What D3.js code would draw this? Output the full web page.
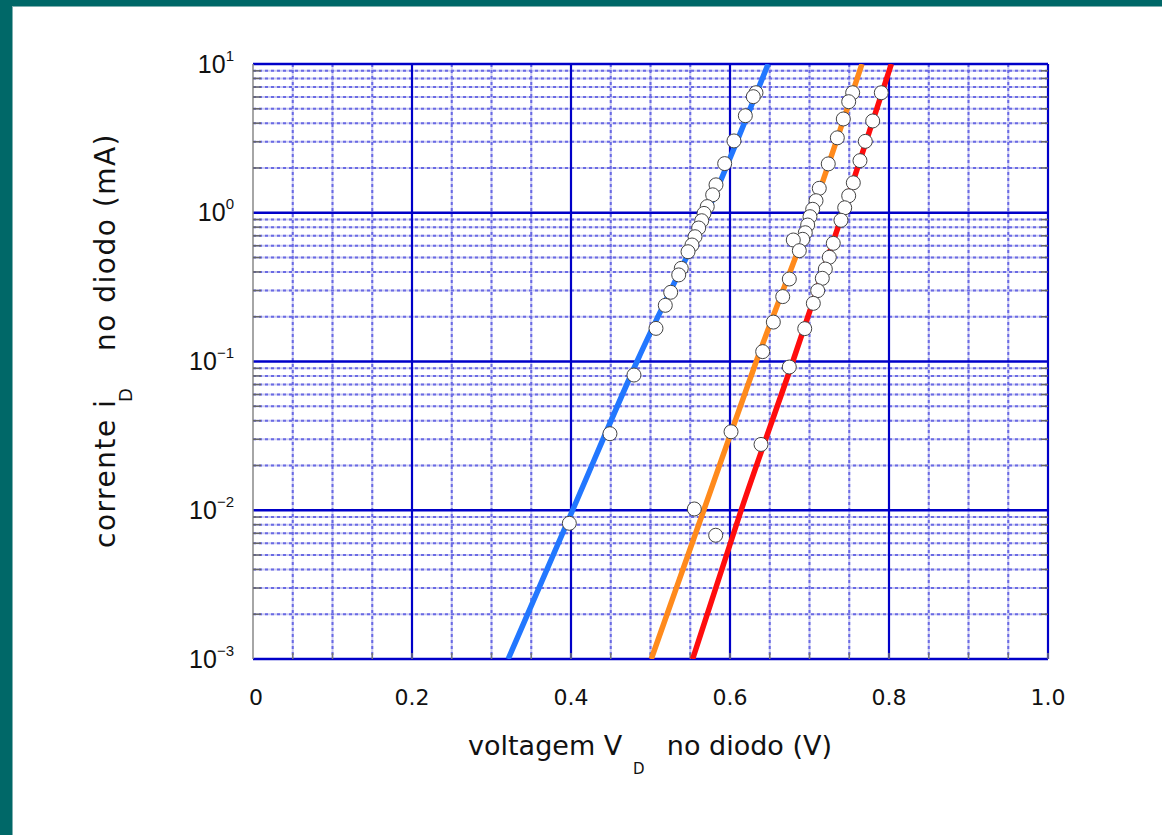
<!DOCTYPE html>
<html>
<head>
<meta charset="utf-8">
<script src="https://cdn.jsdelivr.net/npm/d3@7"></script>
<style>
html,body{margin:0;padding:0;background:#fff;}
svg{display:block;}
</style>
</head>
<body>
<svg id="chart" width="1162" height="835"></svg>
<script>
// ---------- data ----------
const xTickValues = [0, 0.2, 0.4, 0.6, 0.8, 1.0];
const xTickLabels = ["0", "0.2", "0.4", "0.6", "0.8", "1.0"];
const yTickValues = [1e-3, 1e-2, 1e-1, 1, 10];
const yTickExponents = ["\u22123", "\u22122", "\u22121", "0", "1"];

// fitted curves (V, mA)
const blueCurve   = [[0.321,0.001],[0.402,0.01],[0.483,0.1],[0.571,1],[0.648,10]];
const orangeCurve = [[0.501,0.001],[0.567,0.01],[0.633,0.1],[0.703,1],[0.766,10]];
const redCurve    = [[0.553,0.001],[0.614,0.01],[0.679,0.1],[0.742,1],[0.803,10]];

// measured points (V, mA)
const bluePoints = [[0.6327,6.41],[0.6293,6.03],[0.6193,4.49],[0.605,3.04],[0.5933,2.14],[0.5824,1.54],
  [0.5782,1.32],[0.5714,1.10],[0.5673,0.99],[0.5644,0.884],[0.5606,0.790],[0.556,0.690],[0.5522,0.607],
  [0.5472,0.547],[0.5387,0.423],[0.5355,0.382],[0.5254,0.292],[0.5186,0.2386],[0.5069,0.167],
  [0.4792,0.0811],[0.449,0.0327],[0.3979,0.00817]];
const orangePoints = [[0.7543,6.41],[0.7493,5.58],[0.7425,4.27],[0.735,3.19],[0.7236,2.13],[0.7123,1.46],
  [0.7082,1.205],[0.704,1.055],[0.7006,0.941],[0.6977,0.827],[0.6947,0.734],[0.6914,0.663],[0.6796,0.656],
  [0.6872,0.556],[0.6746,0.3585],[0.6663,0.273],[0.6545,0.184],[0.6411,0.1165],[0.6013,0.0337],
  [0.5551,0.0102],[0.582,0.00679]];
const redPoints = [[0.7903,6.41],[0.7795,4.14],[0.7702,3.02],[0.7635,2.24],[0.7551,1.59],[0.7493,1.30],
  [0.7443,1.08],[0.7396,0.89],[0.7299,0.623],[0.7249,0.502],[0.7199,0.4185],[0.7161,0.3625],[0.7103,0.2995],
  [0.7048,0.246],[0.694,0.1663],[0.6746,0.0918],[0.639,0.0277]];

// ---------- drawing ----------
const svg = d3.select("#chart");
const L = 253, R = 1048, T = 64, B = 659;
const x = d3.scaleLinear().domain([0, 1]).range([L, R]);
const y = d3.scaleLog().domain([1e-3, 10]).range([B, T]);

// frame
svg.append("rect").attr("x",0).attr("y",0).attr("width",1162).attr("height",835).attr("fill","#fff");
svg.append("rect").attr("x",0).attr("y",0).attr("width",1162).attr("height",6).attr("fill","#006868");
svg.append("rect").attr("x",0).attr("y",0).attr("width",12).attr("height",835).attr("fill","#006868");
svg.append("line").attr("x1",12.5).attr("x2",12.5).attr("y1",6).attr("y2",835).attr("stroke","#7fb0b0").attr("stroke-width",1);
svg.append("line").attr("x1",12).attr("x2",1162).attr("y1",6.5).attr("y2",6.5).attr("stroke","#7fb0b0").attr("stroke-width",1);

const g = svg.append("g");

// minor values
const xMinor = d3.range(1, 20).map(i => i * 0.05).filter(v => Math.abs(v / 0.2 - Math.round(v / 0.2)) > 1e-6);
const xMajor = [0.2, 0.4, 0.6, 0.8, 1.0];
const yMinor = [];
[-3, -2, -1, 0].forEach(e => { for (let m = 2; m <= 9; m++) yMinor.push(m * Math.pow(10, e)); });
const yMajor = yTickValues;

// minor grid: base + dashes
function minorV(sel, col, w, dash) {
  sel.selectAll(null).data(xMinor).enter().append("line")
    .attr("x1", d => x(d)).attr("x2", d => x(d)).attr("y1", T).attr("y2", B)
    .attr("stroke", col).attr("stroke-width", w).attr("stroke-dasharray", dash);
}
function minorH(sel, col, w, dash) {
  sel.selectAll(null).data(yMinor).enter().append("line")
    .attr("x1", L).attr("x2", R).attr("y1", d => y(d)).attr("y2", d => y(d))
    .attr("stroke", col).attr("stroke-width", w).attr("stroke-dasharray", dash);
}
minorV(g, "#cbcbf2", 2, null);
minorH(g, "#cbcbf2", 2, null);
minorV(g, "#6a6ae4", 2, "3,3");
minorH(g, "#6a6ae4", 2, "3,3");

// major grid
g.selectAll(null).data(xMajor).enter().append("line")
  .attr("x1", d => x(d)).attr("x2", d => x(d)).attr("y1", T).attr("y2", B)
  .attr("stroke", "#0000c8").attr("stroke-width", 2.2);
g.selectAll(null).data(yMajor).enter().append("line")
  .attr("x1", L).attr("x2", R).attr("y1", d => y(d)).attr("y2", d => y(d))
  .attr("stroke", "#0000c8").attr("stroke-width", 2.5);

// left axis line
g.append("line").attr("x1", L).attr("x2", L).attr("y1", T).attr("y2", B)
  .attr("stroke", "#888").attr("stroke-width", 1.5);

// ticks
g.selectAll(null).data(yMinor).enter().append("line")
  .attr("x1", L).attr("x2", L + 8).attr("y1", d => y(d)).attr("y2", d => y(d))
  .attr("stroke", "#666").attr("stroke-width", 1.5);
g.selectAll(null).data(yMinor).enter().append("line")
  .attr("x1", R - 7).attr("x2", R).attr("y1", d => y(d)).attr("y2", d => y(d))
  .attr("stroke", "#666").attr("stroke-width", 1.5);
g.selectAll(null).data(xMinor.concat(xMajor)).enter().append("line")
  .attr("x1", d => x(d)).attr("x2", d => x(d)).attr("y1", B).attr("y2", B - 6)
  .attr("stroke", "#777").attr("stroke-width", 1.5);

// clip
svg.append("clipPath").attr("id", "clip").append("rect")
  .attr("x", L).attr("y", T).attr("width", R - L).attr("height", B - T);

const line = d3.line().x(d => x(d[0])).y(d => y(d[1])).curve(d3.curveMonotoneX);
const curves = [[blueCurve, "#2277ff"], [orangeCurve, "#ff8a1c"], [redCurve, "#ff0d0d"]];
const cg = svg.append("g").attr("clip-path", "url(#clip)");
curves.forEach(([data, col]) => {
  cg.append("path").datum(data).attr("d", line)
    .attr("fill", "none").attr("stroke", col).attr("stroke-width", 5.5);
});

// points
const pg = svg.append("g");
[bluePoints, orangePoints, redPoints].forEach(pts => {
  pg.selectAll(null).data(pts).enter().append("circle")
    .attr("cx", d => x(d[0])).attr("cy", d => y(d[1])).attr("r", 7)
    .attr("fill", "#fff").attr("stroke", "#444").attr("stroke-width", 1);
});

// x tick labels
svg.selectAll(null).data(xTickValues).enter().append("text")
  .attr("x", (d, i) => x(d) + (i === 0 ? 3 : 0)).attr("y", 705)
  .attr("text-anchor", "middle")
  .attr("font-family", "DejaVu Sans, sans-serif").attr("font-size", 22)
  .attr("fill", "#111")
  .text((d, i) => xTickLabels[i]);

// y tick labels
const yl = svg.selectAll(null).data(yTickValues).enter().append("text")
  .attr("x", 234).attr("y", d => y(d) + 8.5)
  .attr("text-anchor", "end")
  .attr("font-family", "Liberation Sans, Arial, sans-serif").attr("font-size", 25)
  .attr("fill", "#111");
yl.append("tspan").text("10");
yl.append("tspan").attr("dy", -12).attr("font-size", 15).text((d, i) => yTickExponents[i]);

// x axis title
const xt = svg.append("g").attr("font-family", "DejaVu Sans, sans-serif").attr("fill", "#111");
xt.append("text").attr("x", 468).attr("y", 755).attr("font-size", 27).text("voltagem V");
xt.append("text").attr("x", 633).attr("y", 774).attr("font-size", 15).text("D");
xt.append("text").attr("x", 832).attr("y", 755).attr("font-size", 27).attr("text-anchor", "end").text("no diodo (V)");

// y axis title
const yt = svg.append("g").attr("font-family", "DejaVu Sans, sans-serif").attr("fill", "#111")
  .attr("transform", "translate(115,0) rotate(-90)");
yt.append("text").attr("x", -548).attr("y", 0).attr("font-size", 28).attr("letter-spacing", 1.5).text("corrente i");
yt.append("text").attr("x", -402).attr("y", 17).attr("font-size", 18).text("D");
yt.append("text").attr("x", -133).attr("y", 0).attr("font-size", 28).attr("letter-spacing", 1.5)
  .attr("text-anchor", "end").text("no diodo (mA)");
</script>
</body>
</html>
